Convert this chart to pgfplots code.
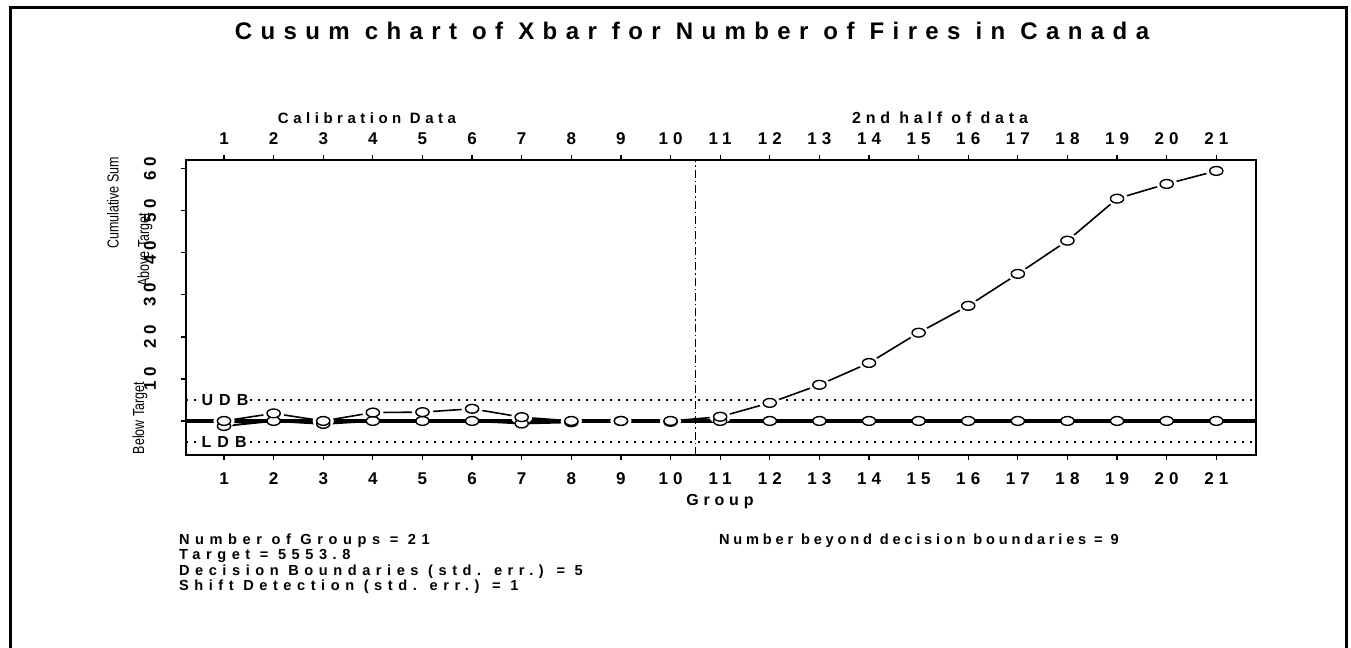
\documentclass[border=0pt]{standalone}
\usepackage{pgfplots}
\pgfplotsset{compat=1.18}
\usepackage{graphicx}
\usepackage{fontspec}
\setmainfont{Liberation Sans}
\newfontfamily\spf[LetterSpace=30]{Liberation Sans}
\newfontfamily\bspf[LetterSpace=38]{Liberation Sans}
\newfontfamily\rspf[LetterSpace=26]{Liberation Sans}
\newfontfamily\tspf[LetterSpace=35]{Liberation Sans}
\pgfplotstableread{
x y
1 0
2 1.8
3 0
4 2.0
5 2.1
6 2.9
7 0.9
8 0
9 0
10 0
11 1.0
12 4.3
13 8.6
14 13.8
15 21.0
16 27.4
17 35.0
18 42.9
19 52.9
20 56.4
21 59.5
}\upperdata
\pgfplotstableread{
x y
1 -1.2
2 0
3 -0.7
4 0
5 0
6 0
7 -0.6
8 -0.3
9 0
10 -0.2
11 0
12 0
13 0
14 0
15 0
16 0
17 0
18 0
19 0
20 0
21 0
}\lowerdata
\begin{document}
\begin{tikzpicture}
\useasboundingbox (0,0) rectangle (675.5pt,324pt);
\begin{axis}[
  at={(93pt,96.5pt)}, anchor=south west, scale only axis,
  width=535pt, height=147.5pt,
  xmin=0.234, xmax=21.8, ymin=-8.1, ymax=62.1,
  xtick={1,...,21}, ytick={10,20,...,60},
  extra y ticks={0}, extra y tick labels={},
  axis line style={line width=1.3pt},
  tick align=outside, major tick length=2.5pt,
  tick style={black, line width=0.6pt},
  xtick pos=bottom, ytick pos=left,
  /pgf/number format/assume math mode=true,
  xticklabel style={font=\spf\bfseries\fontsize{8.5}{9}\selectfont, yshift=-3pt},
  yticklabel style={font=\spf\bfseries\fontsize{8.5}{9}\selectfont, rotate=90, anchor=south, yshift=9pt},
  clip=false,
]
\addplot[black, line width=0.8pt, dash pattern=on 0.8pt off 3.2pt] coordinates {(0.234,5) (21.8,5)};
\addplot[black, line width=0.8pt, dash pattern=on 0.8pt off 3.2pt] coordinates {(0.234,-5) (21.8,-5)};
\addplot[black, line width=0.7pt, dash pattern=on 4pt off 1.5pt on 0.7pt off 1.5pt] coordinates {(10.5,-8.1) (10.5,62.1)};
\addplot[black, line width=0.8pt] table {\upperdata};
\addplot[only marks, mark=*, mark size=3.4pt, mark options={xscale=1.5, draw=white, fill=white}] table {\upperdata};
\addplot[black, line width=1.7pt] coordinates {(0.234,0) (21.8,0)};
\addplot[black, line width=1.0pt] table {\lowerdata};
\addplot[only marks, mark=*, mark size=2.2pt, mark options={xscale=1.5, draw=black, fill=white, line width=0.7pt}] table {\lowerdata};
\addplot[only marks, mark=*, mark size=2.2pt, mark options={xscale=1.5, draw=black, fill=white, line width=0.7pt}] table {\upperdata};
\node[anchor=west, fill=white, inner sep=1pt, font=\bspf\bfseries\fontsize{8}{9}\selectfont] at (axis cs:0.5,5) {UDB};
\node[anchor=west, fill=white, inner sep=1pt, font=\bspf\bfseries\fontsize{8}{9}\selectfont] at (axis cs:0.5,-5) {LDB};
\end{axis}
\begin{axis}[
  at={(93pt,96.5pt)}, anchor=south west, scale only axis,
  width=535pt, height=147.5pt,
  xmin=0.234, xmax=21.8, ymin=-8.1, ymax=62.1,
  axis x line*=top, axis y line=none,
  xtick={1,...,21},
  tick align=outside, major tick length=2.5pt,
  tick style={black, line width=0.6pt},
  axis line style={line width=1.3pt},
  /pgf/number format/assume math mode=true,
  xticklabel style={font=\spf\bfseries\fontsize{8.5}{9}\selectfont, yshift=1.5pt},
]
\addplot[draw=none] coordinates {(1,0)};
\end{axis}
\begin{scope}[x=0.5pt, y=-0.5pt, yshift=324pt]
\draw[line width=1.5pt] (10,648) -- (10,8) -- (1346,8) -- (1346,648);
\node[font=\tspf\bfseries\fontsize{12}{14}\selectfont] at (692,31) {Cusum chart of Xbar for Number of Fires in Canada};
\node[font=\spf\bfseries\fontsize{7.5}{9}\selectfont] at (367,118) {Calibration Data};
\node[font=\spf\bfseries\fontsize{8}{9}\selectfont] at (940,118) {2nd half of data};
\node[font=\spf\bfseries\fontsize{8}{9}\selectfont] at (720,502) {Group};
\node[rotate=90, font=\fontsize{8}{9}\selectfont] at (113,203) {\scalebox{0.78}[1]{Cumulative Sum}};
\node[rotate=90, font=\fontsize{8}{9}\selectfont] at (145,250) {\scalebox{0.78}[1]{Above Target}};
\node[rotate=90, font=\fontsize{8}{9}\selectfont] at (140,418) {\scalebox{0.78}[1]{Below Target}};
\node[anchor=base west, font=\bspf\bfseries\fontsize{7.3}{9}\selectfont] at (172,545) {Number of Groups = 21};
\node[anchor=base west, font=\bspf\bfseries\fontsize{7.3}{9}\selectfont] at (172,560) {Target = 5553.8};
\node[anchor=base west, font=\bspf\bfseries\fontsize{7.3}{9}\selectfont] at (172,576) {Decision Boundaries (std. err.) = 5};
\node[anchor=base west, font=\bspf\bfseries\fontsize{7.3}{9}\selectfont] at (172,591) {Shift Detection (std. err.) = 1};
\node[anchor=base west, font=\rspf\bfseries\fontsize{7.3}{9}\selectfont] at (712,545) {Number beyond decision boundaries = 9};
\end{scope}
\end{tikzpicture}
\end{document}
